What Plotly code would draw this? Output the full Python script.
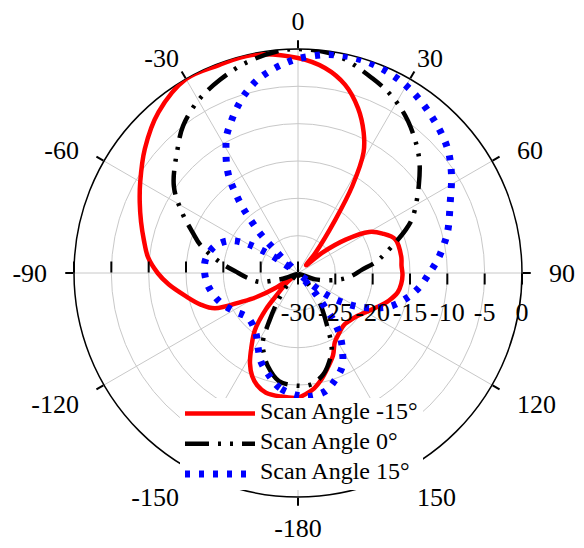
import plotly.graph_objects as go

# ---- data (dB vs angle, degrees; 0 at top, clockwise) ----
RED_THETA = [-180, -172, -165, -160, -156, -152, -148, -143, -138.5, -136, -131, -127, -123.5, -120,
             -117, -113, -108, -101.5, -95, -90, -84, -78, -72, -66, -60, -51, -41, -30, -21, -12,
             0, 7.5, 14, 20, 25, 28.5, 32, 35, 41, 46, 50, 55, 60, 65, 71, 81, 86, 91, 96, 101,
             107, 113, 120, 126, 133, 139, 145, 152, 157, 163, 168, 172, 176, 180]
RED_DB = [-13.3, -13.3, -13.4, -14.0, -14.9, -16.3, -18.2, -20.4, -23.5, -26.0, -28.0, -29.3, -26.3, -23.5,
          -21.5, -17.9, -16.3, -14.6, -12.6, -11.2, -9.8, -8.9, -7.9, -6.8, -5.6, -3.6, -1.5, 0.0, -0.2, -0.15,
          -1.2, -2.3, -4.0, -6.5, -9.2, -11.6, -16.3, -21.3, -26.5, -28.5, -25.8, -22.2, -19.0, -17.5, -16.2,
          -16.0, -16.1, -16.0, -16.1, -16.4, -17.3, -18.4, -19.5, -20.2, -20.6, -20.7, -20.3, -19.5, -18.0,
          -16.6, -15.3, -14.4, -13.8, -13.3]

BLACK_THETA = [-180, -170, -162, -157, -153, -149, -144, -138, -130, -120, -112, -108, -103, -96, -90,
               -82, -74, -69, -62.5, -55, -44, -38, -30, -22, -14, -5.5, 0, 10, 21, 28, 36, 46, 54,
               64, 68, 77, 82, 87, 94, 100, 110, 120, 130, 138, 144, 151, 156, 161, 166, 173, 180]
BLACK_DB = [-14.9, -15.3, -16.9, -18.3, -19.6, -22.6, -25.5, -28.0, -29.7, -29.7, -28.3, -27.0, -24.7, -23.3,
            -22.0, -19.4, -16.4, -14.9, -12.5, -9.7, -6.8, -5.0, -3.3, -2.1, -1.0, -0.2, 0.0, -0.4, -2.1,
            -3.2, -4.9, -7.5, -10.0, -12.9, -14.4, -17.9, -19.5, -21.4, -23.0, -24.7, -27.5, -29.7, -29.7,
            -27.5, -25.0, -22.0, -18.9, -17.3, -16.0, -15.0, -14.9]

BLUE_THETA = [-180, -171, -163.5, -157, -151, -144, -131.5, -120.5, -110, -99, -90, -81.5, -72, -65, -61,
              -58.5, -56.5, -52, -46.5, -45, -44, -42, -40, -38, -36, -33.5, -30.5, -27.5, -24, -20.5,
              -16.5, -12, -7.5, -3.5, 0, 7.5, 15, 23, 31.5, 41, 50, 57, 65, 74.5, 79.5, 84.5, 90, 97,
              104, 110, 114.5, 118.5, 122, 126, 129, 133, 137.5, 139.5, 142, 143.5, 146.5, 150.5, 154.5,
              161, 167.5, 174.5, 180]
BLUE_DB = [-13.6, -14.4, -15.9, -17.2, -18.9, -20.3, -21.0, -20.0, -18.8, -17.9, -17.5, -17.5, -18.3, -19.8,
           -21.6, -23.7, -25.8, -29.3, -27.0, -25.3, -23.0, -20.7, -18.3, -16.4, -14.4, -12.7, -11.0, -9.3,
           -7.9, -6.5, -5.0, -3.6, -2.6, -1.85, -1.3, -0.5, -0.2, -0.45, -1.2, -2.5, -3.9, -5.5, -7.5,
           -9.2, -10.2, -11.2, -12.4, -13.7, -15.3, -16.9, -18.7, -20.4, -22.2, -24.3, -26.5, -29.5,
           -28.6, -26.4, -23.9, -21.8, -19.7, -17.9, -16.2, -14.8, -13.7, -13.4, -13.6]

NB = "\u00a0"
ANG_TICKS = [0, 30, 60, 90, 120, 150, 180, 210, 240, 270, 300, 330]
ANG_LABELS = ["0", "30", NB * 2 + "60", NB * 2 + "90", NB * 2 + "120", "150",
              "-180", "-150", "-120" + NB * 2, "-90" + NB * 2, "-60" + NB * 2, "-30"]
RAD_TICKS = [-30, -25, -20, -15, -10, -5, 0]
RAD_LABELS = ["-30", "-25", "-20", "-15", "-10", "-5", "0"]

NAMES = ["Scan Angle -15\u00b0", "Scan Angle 0\u00b0", "Scan Angle 15\u00b0"]

FONT = "Liberation Serif, Times New Roman, serif"
GRID = "#c8c8c8"


def legend_name(s):
    # rendered at 24px while the legend rows/box are laid out for a smaller font
    return "<span style='font-size:24px'>" + s + "</span>"


# page body has an 8px default margin, so the figure is 8px smaller than the window
W, H = 576, 540

fig = go.Figure()
fig.add_trace(go.Scatterpolar(r=RED_DB, theta=RED_THETA, mode="lines", name=legend_name(NAMES[0]),
                              legendgroup="g1",
                              line=dict(color="#ff0000", width=4.5, shape="spline")))
fig.add_trace(go.Scatterpolar(r=BLACK_DB, theta=BLACK_THETA, mode="lines", name=legend_name(NAMES[1]),
                              legendgroup="g2",
                              line=dict(color="#000000", width=4.5, shape="spline",
                                        dash="24px,9px,3px,9px,3px,9px")))
fig.add_trace(go.Scatterpolar(r=BLUE_DB, theta=BLUE_THETA, mode="lines", name=legend_name(NAMES[2]),
                              legendgroup="g3",
                              line=dict(color="#0000ff", width=7, shape="spline", dash="5px,9px")))
# overlay subplots: radial tick labels (offset below the axis) and mirrored ticks on the left
fig.add_trace(go.Scatterpolar(r=[None], theta=[None], subplot="polar2", showlegend=False,
                              mode="lines", hoverinfo="skip"))
fig.add_trace(go.Scatterpolar(r=[None], theta=[None], subplot="polar3", showlegend=False,
                              mode="lines", hoverinfo="skip"))

dom_x = [66 / W, 514 / W]
dom_y = [51 / H, 499 / H]

hidden_ang = dict(direction="clockwise", rotation=90, visible=False,
                  showgrid=False, showline=False, ticks="")

fig.update_layout(
    width=W, height=H,
    margin=dict(l=0, r=0, t=0, b=0),
    paper_bgcolor="white",
    font=dict(family=FONT, size=26, color="black"),
    polar=dict(
        domain=dict(x=dom_x, y=dom_y),
        bgcolor="white",
        angularaxis=dict(direction="clockwise", rotation=90, thetaunit="degrees",
                         tickmode="array", tickvals=ANG_TICKS, ticktext=ANG_LABELS,
                         showline=True, linecolor="black", linewidth=1.5,
                         ticks="outside", ticklen=8, tickwidth=1.5, tickcolor="black",
                         gridcolor=GRID, gridwidth=1, layer="below traces",
                         tickfont=dict(family=FONT, size=26, color="black")),
        radialaxis=dict(range=[-30, 0], tickmode="array", tickvals=RAD_TICKS,
                        showticklabels=False, angle=0, side="clockwise",
                        ticks="outside", ticklen=11, tickwidth=1.5, tickcolor="black",
                        showline=False, gridcolor=GRID, gridwidth=1, layer="below traces"),
    ),
    polar2=dict(
        domain=dict(x=dom_x, y=dom_y),
        bgcolor="rgba(0,0,0,0)",
        angularaxis=hidden_ang,
        radialaxis=dict(range=[-30, 0], tickmode="array", tickvals=RAD_TICKS, ticktext=RAD_LABELS,
                        angle=0, side="clockwise", showgrid=False, showline=False,
                        ticks="outside", ticklen=16, tickcolor="rgba(0,0,0,0)",
                        tickfont=dict(family=FONT, size=26, color="black")),
    ),
    polar3=dict(
        domain=dict(x=dom_x, y=dom_y),
        bgcolor="rgba(0,0,0,0)",
        angularaxis=hidden_ang,
        radialaxis=dict(range=[-30, 0], tickmode="array", tickvals=RAD_TICKS,
                        showticklabels=False, angle=180, side="clockwise",
                        showgrid=False, showline=False,
                        ticks="outside", ticklen=11, tickwidth=1.5, tickcolor="black"),
    ),
    legend=dict(x=172 / W, y=(H - 390) / H, xanchor="left", yanchor="top",
                bgcolor="white", borderwidth=0, tracegroupgap=9, itemwidth=70,
                font=dict(family=FONT, size=14, color="black")),
    showlegend=True,
)

fig.write_html("out.html")
